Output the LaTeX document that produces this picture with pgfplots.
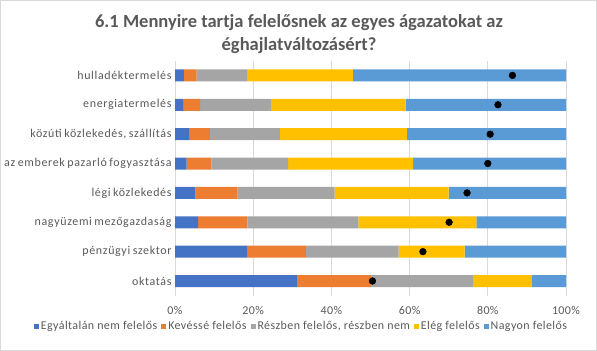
\documentclass[border=0pt]{standalone}
\usepackage{pgfplots}
\pgfplotsset{compat=1.18}
\usepackage{fontspec}
\setmainfont{Carlito}
\newfontfamily\smallf[LetterSpace=3.5]{Carlito}
\newfontfamily\labf[LetterSpace=5.5,WordSpace=0.75]{Carlito}
\definecolor{cA}{HTML}{4472C4}
\definecolor{cB}{HTML}{ED7D31}
\definecolor{cC}{HTML}{A5A5A5}
\definecolor{cD}{HTML}{FFC000}
\definecolor{cE}{HTML}{5B9BD5}
\definecolor{txt}{HTML}{595959}
\definecolor{gridc}{HTML}{D9D9D9}
\begin{document}
\begin{tikzpicture}
\draw[gridc, line width=0.75bp] (0.4bp,0.4bp) rectangle (596.6bp,350.6bp);
\node[font=\fontsize{18.6}{22.5}\selectfont\bfseries, text=txt, align=center] at (299bp,317bp) {6.1 Mennyire tartja felelősnek az egyes ágazatokat az\\éghajlatváltozásért?};
\begin{axis}[
  at={(175bp,55.3bp)}, anchor=south west,
  scale only axis, width=391bp, height=235bp,
  xmin=0, xmax=100, ymin=-0.5, ymax=7.5,
  xbar stacked, bar width=12bp,
  axis line style={draw=none},
  major tick style={draw=none},
  xmajorgrids, grid style={gridc, line width=0.75bp},
  xtick={0,20,40,60,80,100},
  xticklabels={0\%,20\%,40\%,60\%,80\%,100\%},
  ytick={0,1,2,3,4,5,6,7},
  yticklabels={oktatás,pénzügyi szektor,nagyüzemi mezőgazdaság,légi közlekedés,az emberek pazarló fogyasztása,{közúti közlekedés, szállítás},energiatermelés,hulladéktermelés},
  xticklabel style={font=\smallf\fontsize{12}{14}\selectfont, text=txt, yshift=-7bp},
  yticklabel style={font=\labf\fontsize{12}{14}\selectfont, text=txt},
  legend columns=5,
  legend style={at={(0.3235,-0.129)}, anchor=center, draw=none, fill=none,
    font=\smallf\fontsize{12}{14}\selectfont, text=txt,
    /tikz/every even column/.append style={column sep=2bp}},
  legend image code/.code={\fill[#1] (0bp,-2.5bp) rectangle (5bp,2.5bp);},
]
\addplot[fill=cA, draw=none] coordinates {(31.2,0) (18.6,1) (5.9,2) (5.2,3) (3.0,4) (3.6,5) (2.1,6) (2.3,7)};
\addplot[fill=cB, draw=none] coordinates {(18.9,0) (14.9,1) (12.6,2) (10.8,3) (6.3,4) (5.3,5) (4.3,6) (3.2,7)};
\addplot[fill=cC, draw=none] coordinates {(26.3,0) (23.7,1) (28.4,2) (24.8,3) (19.6,4) (17.9,5) (18.3,6) (13.1,7)};
\addplot[fill=cD, draw=none] coordinates {(14.9,0) (16.9,1) (30.2,2) (29.2,3) (32.0,4) (32.5,5) (34.3,6) (26.9,7)};
\addplot[fill=cE, draw=none] coordinates {(8.7,0) (25.9,1) (22.9,2) (30.0,3) (39.1,4) (40.7,5) (41.0,6) (54.5,7)};
\legend{Egyáltalán nem felelős,Kevéssé felelős,{Részben felelős, részben nem},Elég felelős,Nagyon felelős}
\end{axis}
\begin{axis}[
  at={(175bp,55.3bp)}, anchor=south west,
  scale only axis, width=391bp, height=235bp,
  xmin=0, xmax=100, ymin=-0.5, ymax=7.5,
  hide axis,
]
\addplot[only marks, mark=*, mark size=3.4bp, mark options={fill=black, draw=black}] coordinates {(50.5,0) (63.4,1) (70.1,2) (74.7,3) (80.0,4) (80.6,5) (82.6,6) (86.3,7)};
\end{axis}
\pgfresetboundingbox
\useasboundingbox (0,0) rectangle (597bp,351bp);
\end{tikzpicture}
\end{document}
